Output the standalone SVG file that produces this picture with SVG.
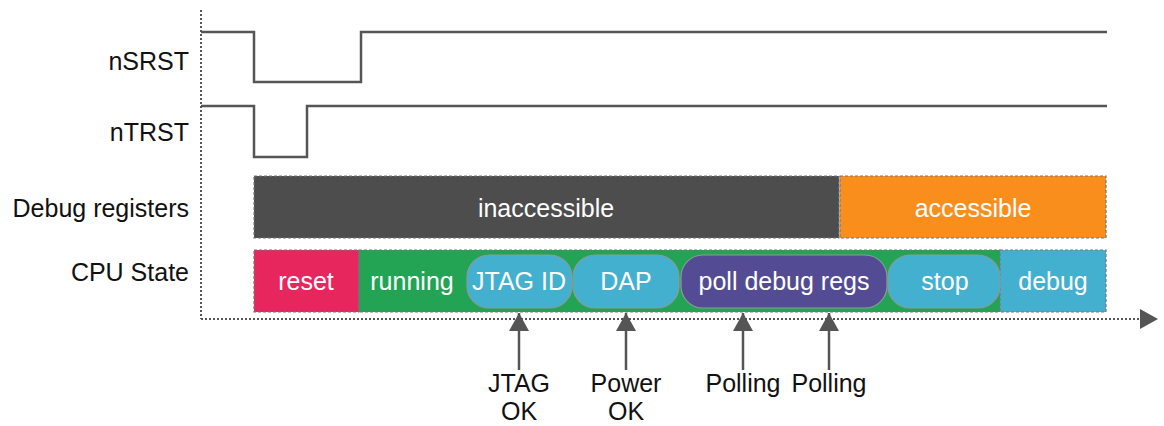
<svg xmlns="http://www.w3.org/2000/svg" width="1164" height="426" viewBox="0 0 1164 426">
<style>
.lbl{font-family:"Liberation Sans",Arial,sans-serif;font-size:25px;fill:#111;text-anchor:end}
.bt{font-family:"Liberation Sans",Arial,sans-serif;font-size:25px;fill:#fff;text-anchor:middle}
.ev{font-family:"Liberation Sans",Arial,sans-serif;font-size:25px;fill:#111;text-anchor:middle}
.sig{fill:none;stroke:#555;stroke-width:2.5}
.axis{fill:none;stroke:#555;stroke-width:2;stroke-dasharray:2 2}
.box{stroke:#777;stroke-width:1.2;stroke-dasharray:3 2}
.pill{stroke:#8a9a9a;stroke-width:1.2}
.arr{stroke:#555;stroke-width:2.5}
</style>
<defs>
<marker id="ah" markerWidth="20" markerHeight="20" viewBox="0 0 20 20" refX="18" refY="10" orient="auto" markerUnits="userSpaceOnUse">
<path d="M0,0 L18,10 L0,20 Z" fill="#555"/>
</marker>
</defs>
<g id="axes">
<line class="axis" x1="201" y1="10" x2="201" y2="319"/>
<line class="axis" x1="201" y1="319" x2="1142" y2="319"/>
<path d="M1140,309 L1158,319 L1140,329 Z" fill="#555"/>
</g>
<g id="labels">
<text class="lbl" x="189" y="70">nSRST</text>
<text class="lbl" x="189" y="141">nTRST</text>
<text class="lbl" x="189" y="217">Debug registers</text>
<text class="lbl" x="189" y="281">CPU State</text>
</g>
<g id="nSRST"><path class="sig" d="M201,32 H254 V82 H361 V32 H1107"/></g>
<g id="nTRST"><path class="sig" d="M201,106 H254 V157 H307 V106 H1107"/></g>
<g id="inaccessible"><rect class="box" x="254" y="176" width="585" height="62" fill="#4d4d4d"/><text class="bt" x="546" y="217">inaccessible</text></g>
<g id="accessible"><rect class="box" x="840" y="176" width="266" height="62" fill="#f98e1d"/><text class="bt" x="973" y="217">accessible</text></g>
<g id="reset"><rect class="box" x="254" y="250" width="105" height="62" fill="#e8265e"/><text class="bt" x="306" y="290">reset</text></g>
<g id="running"><rect class="box" x="359" y="250" width="641" height="62" fill="#22a454"/><text class="bt" x="412" y="290">running</text></g>
<g id="debug"><rect class="box" x="1000" y="250" width="106" height="62" fill="#44b0d0"/><text class="bt" x="1053" y="290">debug</text></g>
<g id="jtagid"><rect class="pill" x="467" y="255" width="105" height="53" rx="22" fill="#44b0d0"/><text class="bt" x="519" y="290">JTAG ID</text></g>
<g id="dap"><rect class="pill" x="573" y="255" width="106" height="53" rx="22" fill="#44b0d0"/><text class="bt" x="626" y="290">DAP</text></g>
<g id="poll"><rect class="pill" x="681" y="255" width="206" height="53" rx="22" fill="#534c94"/><text class="bt" x="784" y="290">poll debug regs</text></g>
<g id="stop"><rect class="pill" x="888" y="255" width="112" height="53" rx="22" fill="#44b0d0"/><text class="bt" x="945" y="290">stop</text></g>
<g id="connectors">
<line class="arr" x1="519" y1="370" x2="519" y2="313" marker-end="url(#ah)"/>
<line class="arr" x1="626" y1="370" x2="626" y2="313" marker-end="url(#ah)"/>
<line class="arr" x1="743" y1="370" x2="743" y2="313" marker-end="url(#ah)"/>
<line class="arr" x1="829" y1="370" x2="829" y2="313" marker-end="url(#ah)"/>
</g>
<g id="events">
<text class="ev" x="519" y="392">JTAG</text><text class="ev" x="519" y="420">OK</text>
<text class="ev" x="626" y="392">Power</text><text class="ev" x="626" y="420">OK</text>
<text class="ev" x="743" y="392">Polling</text>
<text class="ev" x="829" y="392">Polling</text>
</g>
</svg>
